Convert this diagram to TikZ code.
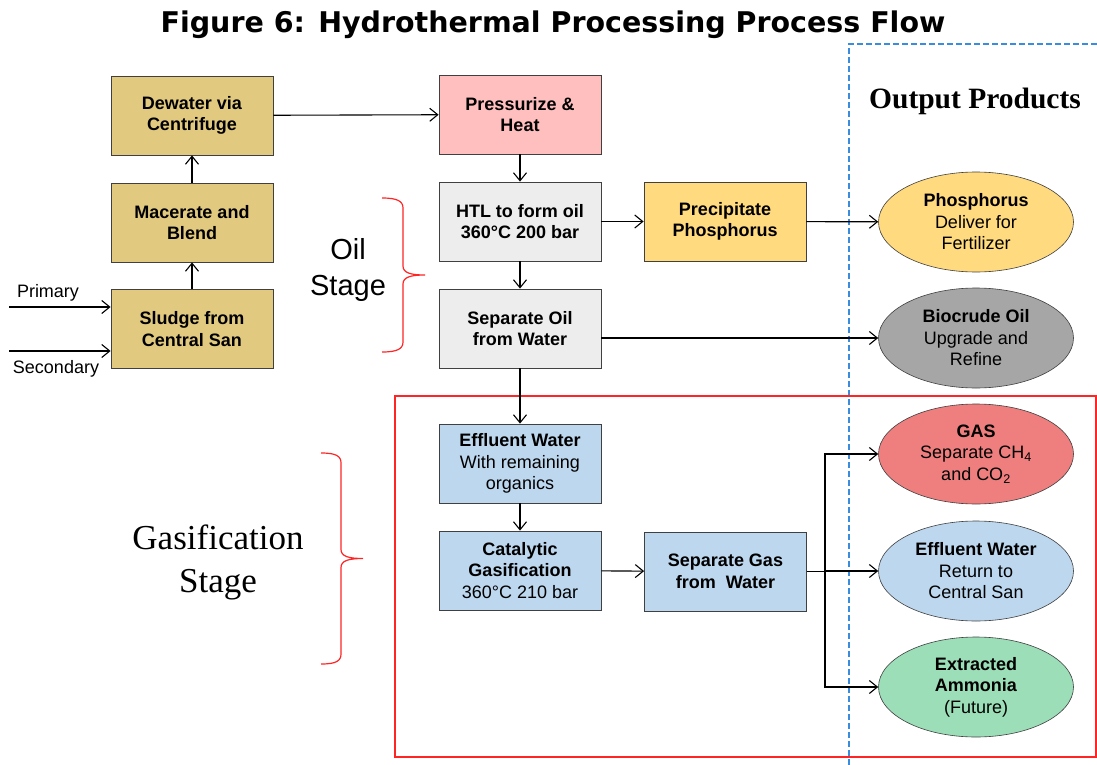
\documentclass[tikz,border=0pt]{standalone}
\usepackage{fontspec}
\setmainfont{Liberation Sans}
\newfontfamily\titlefont{DejaVu Sans}
\newfontfamily\romanfont{Liberation Serif}
\usetikzlibrary{arrows.meta,shapes.geometric}

\definecolor{tanfill}{HTML}{E1C97F}
\definecolor{pinkfill}{HTML}{FFBFBF}
\definecolor{greyfill}{HTML}{EDEDED}
\definecolor{goldfill}{HTML}{FFDA7F}
\definecolor{bluefill}{HTML}{BDD7EE}
\definecolor{crudefill}{HTML}{A6A6A6}
\definecolor{gasfill}{HTML}{EF7F7F}
\definecolor{greenfill}{HTML}{9BDEB7}
\definecolor{boxline}{HTML}{404040}
\definecolor{stagered}{HTML}{FF2525}
\definecolor{dashblue}{HTML}{3A8DDE}

\begin{document}
\begin{tikzpicture}[x=1pt,y=-1pt,
  box/.style={rectangle, draw=boxline, line width=0.8pt, minimum width=162pt,
              minimum height=79pt, inner sep=0pt, align=center,
              font=\fontsize{18}{21.5}\selectfont},
  prod/.style={ellipse, draw=boxline, line width=0.6pt, minimum width=195pt,
               minimum height=100pt, inner sep=0pt, align=center,
               font=\fontsize{18}{21.5}\selectfont},
  flow/.style={line width=1.1pt, -{Straight Barb[length=8pt,width=13pt]}},
  stagebrace/.style={draw=stagered, line width=1.2pt}]
\useasboundingbox (0,0) rectangle (1097,765);

% title and frames
\node (title) at (553,25){\titlefont\bfseries\fontsize{28.5}{32}\selectfont
  Figure 6: Hydrothermal Processing Process Flow};
\draw[dashblue, line width=1.4pt, dash pattern=on 6pt off 3pt]
  (849,765) -- (849,44) -- (1097,44);
\draw[stagered, line width=1.2pt] (395,396) rectangle (1096,757);
\node (outlab) at (975,101){\romanfont\bfseries\fontsize{29.5}{34}\selectfont
  Output Products};

% stage labels
\node (oillab) at (348,270)[align=center, font=\fontsize{29}{36}\selectfont]{Oil\\Stage};
\node (gaslab) at (218,562)[align=center, font=\romanfont\fontsize{35}{43}\selectfont]{Gasification\\Stage};
\draw[stagebrace] (382,198) .. controls +(15,0) and +(0,-7) .. ++(21,10)
  -- ++(0,58) .. controls +(0,7) and +(-14,0) .. ++(22,9)
  .. controls +(-14,0) and +(0,-7) .. ++(-22,9)
  -- ++(0,58) .. controls +(0,7) and +(15,0) .. ++(-21,10);
\draw[stagebrace] (321,453) .. controls +(15,0) and +(0,-7) .. ++(20,10)
  -- ++(0,86.5) .. controls +(0,7) and +(-14,0) .. ++(22,9)
  .. controls +(-14,0) and +(0,-7) .. ++(-22,9)
  -- ++(0,86.5) .. controls +(0,7) and +(15,0) .. ++(-20,10);

% process boxes
\node[box, fill=tanfill] (dew) at (192,115.5){\textbf{Dewater via}\\\textbf{Centrifuge}};
\node[box, fill=tanfill] (mac) at (192,222.5){\textbf{Macerate and}\\\textbf{Blend}};
\node[box, fill=tanfill] (sludge) at (192,329){\textbf{Sludge from}\\\textbf{Central San}};
\node[box, fill=pinkfill] (press) at (520,114.5){\textbf{Pressurize \&}\\\textbf{Heat}};
\node[box, fill=greyfill] (htl) at (520,221.5){\textbf{HTL to form oil}\\\textbf{360°C 200 bar}};
\node[box, fill=greyfill] (sepoil) at (520,328.5){\textbf{Separate Oil}\\\textbf{from Water}};
\node[box, fill=goldfill] (prec) at (725,221.5){\textbf{Precipitate}\\\textbf{Phosphorus}};
\node[box, fill=bluefill] (effl) at (520,463.5){\textbf{Effluent Water}\\With remaining\\organics};
\node[box, fill=bluefill] (cat) at (520,570.5){\textbf{Catalytic}\\\textbf{Gasification}\\360°C 210 bar};
\node[box, fill=bluefill] (sepgas) at (725.5,571.5){\textbf{Separate Gas}\\\textbf{from\ \ Water}};

% output products
\node[prod, fill=goldfill] (phos) at (976,222){\textbf{Phosphorus}\\Deliver for\\Fertilizer};
\node[prod, fill=crudefill] (crude) at (976,338){\textbf{Biocrude Oil}\\Upgrade and\\Refine};
\node[prod, fill=gasfill] (gas) at (976,454){\textbf{GAS}\\Separate CH\textsubscript{4}\\and CO\textsubscript{2}};
\node[prod, fill=bluefill] (water) at (976,571){\textbf{Effluent Water}\\Return to\\Central San};
\node[prod, fill=greenfill] (amm) at (976,687){\textbf{Extracted}\\\textbf{Ammonia}\\(Future)};

% inputs
\coordinate (pri) at (9,307);
\coordinate (sec) at (9,351);
\node (prilab) at (48,293)[font=\fontsize{18}{21.5}\selectfont]{Primary};
\node (seclab) at (56,369)[font=\fontsize{18}{21.5}\selectfont]{Secondary};
\coordinate (split) at (825,571.5);

% connectors
\draw[flow] (pri) -- (sludge.west |- pri);
\draw[flow] (sec) -- (sludge.west |- sec);
\draw[flow] (sludge) -- (mac);
\draw[flow] (mac) -- (dew);
\draw[flow] (dew) -- (press);
\draw[flow] (press) -- (htl);
\draw[flow] (htl) -- (sepoil);
\draw[flow] (htl) -- (prec);
\draw[flow] (prec) -- (phos);
\draw[flow] (sepoil.east |- crude) -- (crude);
\draw[flow] (sepoil) -- (effl);
\draw[flow] (effl) -- (cat);
\draw[flow] (cat) -- (sepgas);
\draw[line width=1.1pt] (sepgas) -- (split);
\draw[flow] (split) |- (gas);
\draw[flow] (split) |- (water);
\draw[flow] (split) |- (amm);
\end{tikzpicture}
\end{document}
